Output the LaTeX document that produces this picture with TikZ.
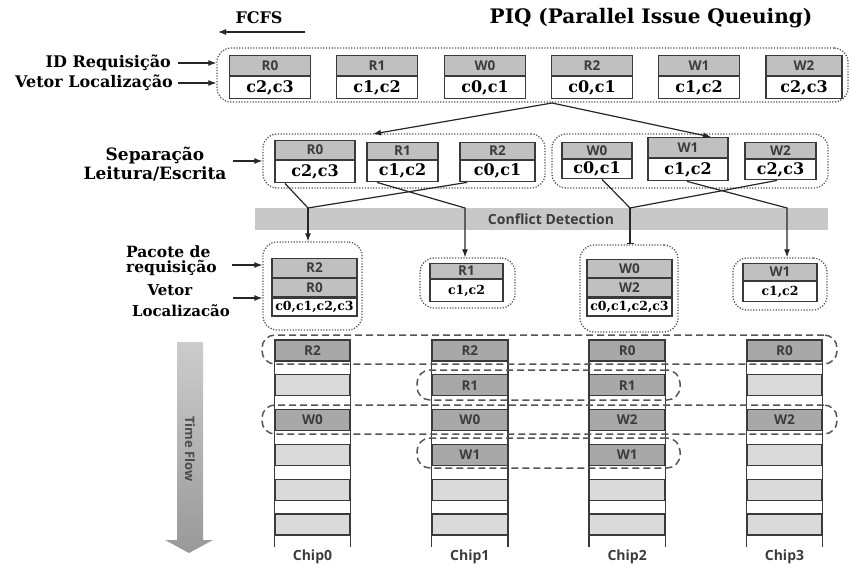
\documentclass[tikz,border=0pt]{standalone}
\usepackage{fontspec}
\setmainfont{DejaVu Serif}
\newfontfamily\boxsans{Open Sans}
\usetikzlibrary{arrows.meta}

\definecolor{edge}{HTML}{3A3A3A}
\definecolor{idfill}{HTML}{C0C0C0}
\definecolor{slotdark}{HTML}{A8A8A8}
\definecolor{slotlight}{HTML}{DADADA}
\definecolor{bandfill}{HTML}{C8C8C8}
\definecolor{inktext}{HTML}{3C3C3C}
\definecolor{grouped}{HTML}{555555}

\tikzset{
  idcell/.style={draw=edge, line width=1.2pt, fill=idfill, inner sep=0pt, text=inktext,
    font=\boxsans\bfseries\fontsize{13.5}{13.5}\selectfont},
  loccell/.style={draw=edge, line width=1.2pt, fill=white, inner sep=0pt,
    font=\bfseries\fontsize{16}{16}\selectfont},
  smallloc/.style={font=\bfseries\fontsize{12.5}{12.5}\selectfont},
  dotgroup/.style={draw=grouped, line width=1.3pt, dash pattern=on 1.2pt off 1.6pt,
    rounded corners=14pt, inner sep=0pt},
  dashgroup/.style={draw=grouped, line width=1.5pt, dash pattern=on 7pt off 4pt,
    rounded corners=13pt, inner sep=0pt},
  lbl/.style={font=\bfseries\fontsize{16}{19}\selectfont, inner sep=0pt},
  wire/.style={draw=black!85, line width=1.2pt},
  arr/.style={wire, -{Latex[length=8pt,width=6pt]}},
  tee/.style={wire, -{Bar[width=7pt,line width=1.2pt]}},
  slotl/.style={draw=edge, line width=1.2pt, fill=slotlight, minimum width=75pt,
    minimum height=21pt, inner sep=0pt, text=inktext,
    font=\boxsans\bfseries\fontsize{13.5}{13.5}\selectfont},
  coledge/.style={draw=edge, line width=1.2pt},
  sanslbl/.style={text=inktext, font=\boxsans\bfseries\fontsize{14}{14}\selectfont, inner sep=0pt},
}

% request box: name, centre x, top y, width, id height, location height, id, location, extra style
\newcommand\reqpair[9]{%
  \node[idcell, minimum width=#4pt, minimum height=#5pt, anchor=north] (#1-id) at (#2,#3) {#7};
  \node[loccell, #9, minimum width=#4pt, minimum height=#6pt, anchor=north] (#1-loc) at (#1-id.south) {#8};}

\begin{document}
\begin{tikzpicture}[x=1pt,y=-1pt]
\useasboundingbox (0,0) rectangle (850,564);

% ---------- title and FCFS ----------
\node[font=\bfseries\fontsize{20}{20}\selectfont] (title) at (651,18) {PIQ (Parallel Issue Queuing)};
\node[lbl] (fcfs) at (259,18) {FCFS};
\coordinate (fcfsfrom) at (305,32);
\coordinate (fcfsto) at (218,32);
\draw[arr] (fcfsfrom) -- (fcfsto);

% ---------- incoming queue ----------
\node[dotgroup, minimum width=631pt, minimum height=54pt] (queue) at (532.5,75) {};
\reqpair{q0}{270}{55}{81}{20}{22}{R0}{c2,c3}{}
\reqpair{q1}{377}{55}{81}{20}{22}{R1}{c1,c2}{}
\reqpair{q2}{485}{55}{81}{20}{22}{W0}{c0,c1}{}
\reqpair{q3}{592}{55}{81}{20}{22}{R2}{c0,c1}{}
\reqpair{q4}{699}{55}{81}{20}{22}{W1}{c1,c2}{}
\reqpair{q5}{804}{55}{76}{20}{22}{W2}{c2,c3}{}

\node[lbl, anchor=east] (lblid) at (171,63) {ID Requisição};
\node[lbl, anchor=east] (lblloc) at (173,83) {Vetor Localização};
\coordinate (idfrom) at (178,63);
\coordinate (locfrom) at (178,83);
\draw[arr] (idfrom) -- (idfrom -| queue.west);
\draw[arr] (locfrom) -- (locfrom -| queue.west);

% ---------- read / write separation ----------
\node[dotgroup, minimum width=282pt, minimum height=54pt] (grpR) at (404,161) {};
\node[dotgroup, minimum width=276pt, minimum height=54pt] (grpW) at (690,161) {};
\reqpair{s0}{315}{140}{80}{19}{22}{R0}{c2,c3}{}
\reqpair{s1}{402.5}{142}{71}{17}{21}{R1}{c1,c2}{}
\reqpair{s2}{497.5}{142}{75}{17}{21}{R2}{c0,c1}{}
\reqpair{s3}{597}{142}{70}{16}{19}{W0}{c0,c1}{}
\reqpair{s4}{688}{137}{80}{20}{22}{W1}{c1,c2}{}
\reqpair{s5}{780.5}{142}{71}{16}{20}{W2}{c2,c3}{}

\node[lbl, align=center, font=\bfseries\fontsize{17}{19}\selectfont] (lblsep) at (155,164) {Separação\\Leitura/Escrita};
\coordinate (sepfrom) at (233,161);
\draw[arr] (sepfrom) -- (grpR.west);

\coordinate (split) at (552,103);
\coordinate (rdin) at (373,134);
\draw[arr] (split) -- (rdin);
\draw[arr] (split) -- ([xshift=23pt]s4-id.north);

% ---------- conflict detection ----------
\node[fill=bandfill, minimum width=573pt, minimum height=22pt, inner sep=0pt] (conflict) at (541.5,219) {};
\node[sanslbl] (conflictlbl) at (551,219) {Conflict Detection};

% ---------- request packets ----------
\node[dotgroup, minimum width=99pt, minimum height=88pt] (p0) at (312.5,286) {};
\node[dotgroup, minimum width=95pt, minimum height=50pt] (p1) at (467.5,283) {};
\node[dotgroup, minimum width=98pt, minimum height=87pt] (p2) at (629,288.5) {};
\node[dotgroup, minimum width=94pt, minimum height=52pt] (p3) at (780,284) {};

\node[idcell, minimum width=85pt, minimum height=19pt, anchor=north] (p0-a) at (314.5,258) {R2};
\node[idcell, minimum width=85pt, minimum height=18pt, anchor=north] (p0-b) at (p0-a.south) {R0};
\node[loccell, smallloc, minimum width=85pt, minimum height=18pt, anchor=north] (p0-loc) at (p0-b.south) {c0,c1,c2,c3};

\reqpair{p1b}{466.5}{263}{73}{15}{22}{R1}{c1,c2}{smallloc}

\node[idcell, minimum width=85pt, minimum height=18pt, anchor=north] (p2-a) at (629.5,259) {W0};
\node[idcell, minimum width=85pt, minimum height=18pt, anchor=north] (p2-b) at (p2-a.south) {W2};
\node[loccell, smallloc, minimum width=85pt, minimum height=18pt, anchor=north] (p2-loc) at (p2-b.south) {c0,c1,c2,c3};

\reqpair{p3b}{780}{263}{74}{17}{20}{W1}{c1,c2}{smallloc}

\node[lbl, align=left, anchor=west, font=\bfseries\fontsize{15.5}{15}\selectfont] (lblpkt) at (126,261) {Pacote de\\requisição};
\node[lbl, font=\bfseries\fontsize{15}{15}\selectfont] (lblvet) at (170,290) {Vetor};
\node[lbl, font=\bfseries\fontsize{15}{15}\selectfont] (lblvloc) at (181,311) {Localizacão};
\coordinate (pktfrom) at (232,265);
\coordinate (vetfrom) at (233,298);
\draw[arr] (pktfrom) -- (pktfrom -| p0.west);
\draw[arr] (vetfrom) -- (vetfrom -| p0.west);

% ---------- conflict checks ----------
\coordinate (j1) at (308,208);
\coordinate (j2) at (465,208);
\coordinate (j3) at (630,208);
\coordinate (j4) at (787,208);
\draw[wire] ([xshift=-30pt]s0-loc.south) -- (j1);
\draw[wire] ([xshift=-30.5pt]s2-loc.south) -- (j1);
\draw[arr] (j1) -- (j1 |- p0.north);
\draw[arr] ([xshift=-25.5pt]s1-loc.south) -- (j2) -- (j2 |- p1.north);
\draw[wire] ([xshift=5pt]s3-loc.south) -- (j3);
\draw[wire] ([xshift=-3.5pt]s5-loc.south) -- (j3);
\draw[tee] (j3) -- (j3 |- p2.north);
\draw[arr] ([xshift=-1pt]s4-loc.south) -- (j4) -- (j4 |- p3.north);

% ---------- chip time lines ----------
\foreach \c/\k/\f/\t in {0/0/slotdark/R2, 0/1/slotlight/{}, 0/2/slotdark/W0, 0/3/slotlight/{},
    0/4/slotlight/{}, 0/5/slotlight/{},
    1/0/slotdark/R2, 1/1/slotdark/R1, 1/2/slotdark/W0, 1/3/slotdark/W1,
    1/4/slotlight/{}, 1/5/slotlight/{},
    2/0/slotdark/R0, 2/1/slotdark/R1, 2/2/slotdark/W2, 2/3/slotdark/W1,
    2/4/slotlight/{}, 2/5/slotlight/{},
    3/0/slotdark/R0, 3/1/slotlight/{}, 3/2/slotdark/W2, 3/3/slotlight/{},
    3/4/slotlight/{}, 3/5/slotlight/{}}
  \node[slotl, fill=\f] (ch\c-\k) at (312.5+157.33*\c, 350.5+34.8*\k) {\t};

\foreach \c in {0,...,3} {
  \draw[coledge] (ch\c-0.north west) -- ++(0,208);
  \draw[coledge] (ch\c-0.north east) -- ++(0,208);
  \node[sanslbl] (chip\c) at (312.5+157.33*\c, 557) {Chip\c};
}

% requests issued together
\node[dashgroup, minimum width=575pt, minimum height=29pt] (g0) at (549.5,349.5) {};
\node[dashgroup, minimum width=263pt, minimum height=30pt] (g1) at (548.5,385) {};
\node[dashgroup, minimum width=575pt, minimum height=29pt] (g2) at (549.5,419.5) {};
\node[dashgroup, minimum width=263pt, minimum height=30pt] (g3) at (548.5,453) {};

% ---------- time flow ----------
\shade[top color=black!20, bottom color=black!40]
  (177,342) -- (203,342) -- (203,540) -- (213,540) -- (189,553) -- (165,540) -- (177,540) -- cycle;
\node[sanslbl, rotate=-90, text=black!70, font=\boxsans\bfseries\fontsize{13}{13}\selectfont] (timeflow) at (190,449) {Time Flow};

\end{tikzpicture}
\end{document}
